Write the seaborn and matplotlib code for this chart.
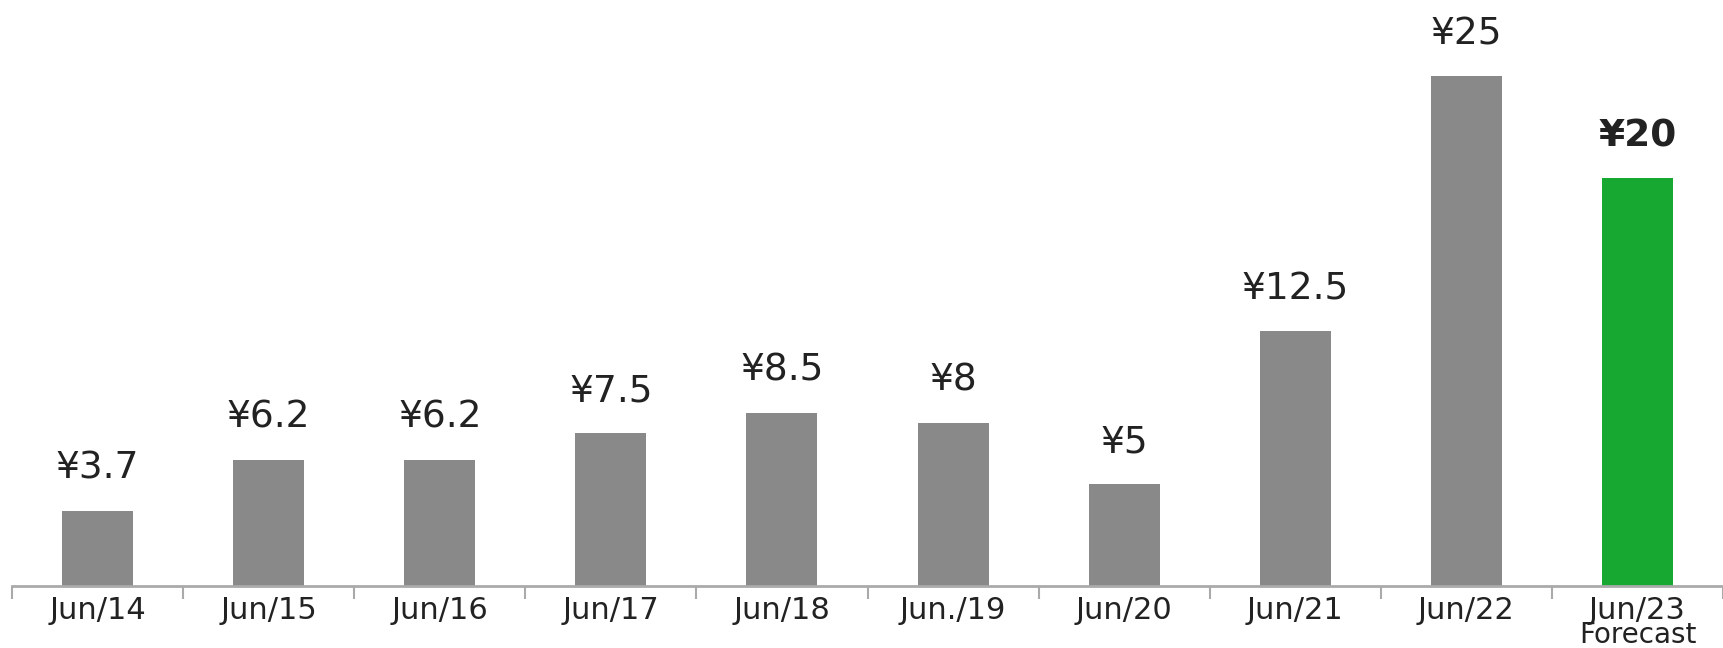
import matplotlib
matplotlib.use("Agg")
import matplotlib.pyplot as plt
import seaborn as sns
import pandas as pd

# Dados do gráfico
periodos = ["Jun/14", "Jun/15", "Jun/16", "Jun/17", "Jun/18",
            "Jun./19", "Jun/20", "Jun/21", "Jun/22", "Jun/23"]
dividendos = [3.7, 6.2, 6.2, 7.5, 8.5, 8, 5, 12.5, 25, 20]
rotulos = ["¥3.7", "¥6.2", "¥6.2", "¥7.5", "¥8.5", "¥8", "¥5", "¥12.5", "¥25", "¥20"]

cinza = "#898989"
verde = "#17a832"
cores = [cinza] * 9 + [verde]

df = pd.DataFrame({"periodo": periodos, "valor": dividendos})

sns.set_style("white")
plt.rcParams["font.family"] = ["DejaVu Sans"]

fig = plt.figure(figsize=(17.23, 6.48), dpi=100)
ax = fig.add_axes([12 / 1723, 62 / 648, 1 - 12 / 1723, 1 - 62 / 648])

sns.barplot(data=df, x="periodo", y="valor", hue="periodo", palette=cores,
            legend=False, width=0.415, saturation=1, linewidth=0,
            edgecolor="none", ax=ax)

ax.set_xlim(-0.5, 9.434)
ax.set_ylim(0, 28.73)

# Rótulos de valor
for i, (v, txt) in enumerate(zip(dividendos, rotulos)):
    ax.annotate(txt, (i, v), xytext=(0, 23), textcoords="offset points",
                ha="center", va="baseline", fontsize=27,
                color="#222222", fontweight="bold" if i == 9 else "normal")

# Eixos
for s in ["top", "right", "left"]:
    ax.spines[s].set_visible(False)
ax.spines["bottom"].set_color("#aaaaaa")
ax.spines["bottom"].set_linewidth(2)
ax.set_yticks([])
ax.set_xlabel("")
ax.set_ylabel("")

ax.set_xticks(range(len(periodos)))
ax.set_xticklabels(periodos, fontsize=22, color="#222222")
ax.tick_params(axis="x", which="major", bottom=True, length=0, pad=7)
ax.set_xticks([i - 0.5 for i in range(len(periodos) + 1)], minor=True)
ax.tick_params(axis="x", which="minor", bottom=True, direction="out",
               length=9, width=1.5, color="#aaaaaa")

# Segunda linha do último rótulo
ax.annotate("Forecast", (len(periodos) - 1, 0), xytext=(0, -41),
            textcoords="offset points", ha="center", va="baseline",
            fontsize=20, color="#222222", annotation_clip=False)

plt.savefig("out.png", dpi=100)
plt.close()
